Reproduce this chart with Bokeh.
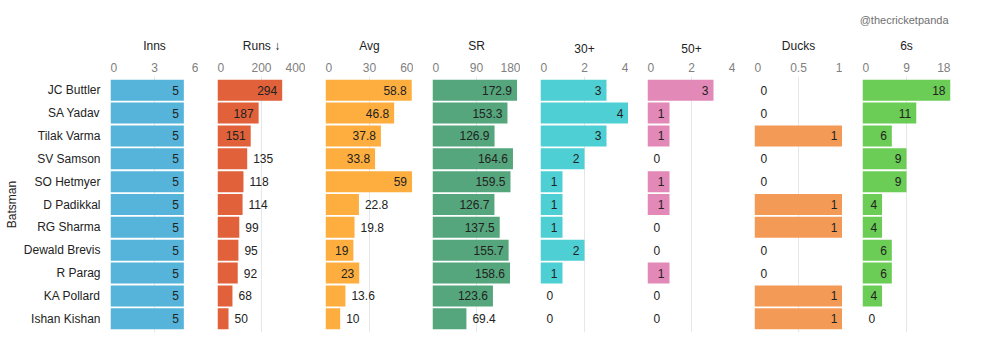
from bokeh.plotting import figure
from bokeh.models import (ColumnDataSource, FactorRange, Range1d, FixedTicker, Title, Div, Grid)
from bokeh.layouts import row
from bokeh.core.properties import value
from bokeh.embed import file_html
from bokeh.resources import INLINE

# ---------------- data ----------------
batsmen = ["JC Buttler", "SA Yadav", "Tilak Varma", "SV Samson", "SO Hetmyer", "D Padikkal",
           "RG Sharma", "Dewald Brevis", "R Parag", "KA Pollard", "Ishan Kishan"]
inns = [5, 5, 5, 5, 5, 5, 5, 5, 5, 5, 5]
runs = [294, 187, 151, 135, 118, 114, 99, 95, 92, 68, 50]
avg = [58.8, 46.8, 37.8, 33.8, 59, 22.8, 19.8, 19, 23, 13.6, 10]
sr = [172.9, 153.3, 126.9, 164.6, 159.5, 126.7, 137.5, 155.7, 158.6, 123.6, 69.4]
thirties = [3, 4, 3, 2, 1, 1, 1, 2, 1, 0, 0]
fifties = [3, 1, 1, 0, 1, 1, 0, 0, 1, 0, 0]
ducks = [0, 0, 1, 0, 0, 1, 1, 0, 0, 1, 1]
sixes = [18, 11, 6, 9, 9, 4, 4, 6, 6, 4, 0]

panel_titles = ["Inns", "Runs \u2193", "Avg", "SR", "30+", "50+", "Ducks", "6s"]
panel_values = [inns, runs, avg, sr, thirties, fifties, ducks, sixes]
panel_ticks = [[0, 3, 6], [0, 200, 400], [0, 30, 60], [0, 90, 180],
               [0, 2, 4], [0, 2, 4], [0, 0.5, 1], [0, 9, 18]]
panel_colors = ["#56b4da", "#e1613a", "#fdae3f", "#55a67c",
                "#4ecfd4", "#e389b7", "#f49a57", "#6bcc56"]
watermark = "@thecricketpanda"

# ---------------- layout constants ----------------
FONT = "Liberation Sans"
H = 352
TOP = 76
BOTTOM = 20
FRAME_W = 88
frame_lefts = [110, 217, 325, 432, 540, 647, 754, 862]
NBSP = "\u00a0"

yr = FactorRange(factors=list(reversed(batsmen)), range_padding=0.1,
                 range_padding_units="absolute")


def fmt(v):
    return f"{v:g}"


def text_w(s):
    return sum(3.33 if ch == "." else 6.67 for ch in s)


def pad(s):
    return NBSP * int(round(text_w(s) / 3.33))


figs = []
n = len(panel_titles)
for i, (title, vals, ticks, color) in enumerate(zip(panel_titles, panel_values, panel_ticks, panel_colors)):
    xmax = ticks[-1]
    if i == 0:
        left_b = frame_lefts[0]
    else:
        left_b = frame_lefts[i] - (frame_lefts[i - 1] + FRAME_W)
    right_b = 35 if i == n - 1 else 0
    w = left_b + FRAME_W + right_b

    p = figure(width=w, height=H, y_range=yr, x_range=Range1d(0, xmax),
               x_axis_location="above", y_axis_location="left" if i == 0 else None,
               toolbar_location=None, output_backend="svg", title=None,
               min_border_left=left_b, min_border_right=right_b,
               min_border_top=TOP, min_border_bottom=BOTTOM)
    p.outline_line_color = None
    p.background_fill_color = "white"
    p.border_fill_color = "white"

    # only vertical grid lines at the tick values
    p.center = [r for r in p.center if not isinstance(r, Grid)]
    p.add_layout(Grid(dimension=0, ticker=FixedTicker(ticks=ticks),
                      grid_line_color="#e4e7eb", grid_line_width=1))

    labels = [fmt(v) for v in vals]
    inside = [(v / xmax) * FRAME_W >= text_w(s) + 11 for v, s in zip(vals, labels)]
    src = ColumnDataSource(dict(
        name=batsmen, v=vals, lab=labels,
        align=["right" if f else "left" for f in inside],
        xoff=[-5 if f else 6 for f in inside],
    ))
    p.hbar(y="name", left=0, right="v", height=0.92, source=src,
           fill_color=color, line_color=None)
    p.text(x="v", y="name", text="lab", source=src, text_align="align", x_offset="xoff",
           text_baseline="middle", text_font=value(FONT), text_font_size="12px",
           text_color="#222222")

    # top axis: first label pushed right; last label ends at the frame edge
    ax = p.xaxis[0]
    ax.ticker = FixedTicker(ticks=ticks)
    overrides = {}
    for j, t in enumerate(ticks):
        s = fmt(t)
        if j == 0:
            s = pad(s) + s
        elif j == len(ticks) - 1 and right_b > 0:
            s = s + pad(s)
        overrides[t] = s
    ax.major_label_overrides = overrides
    ax.axis_line_color = None
    ax.major_tick_line_color = None
    ax.minor_tick_line_color = None
    ax.major_tick_out = 0
    ax.major_tick_in = 0
    ax.minor_tick_out = 0
    ax.major_label_standoff = 2
    ax.major_label_text_font = FONT
    ax.major_label_text_font_size = "12px"
    ax.major_label_text_color = "#808080"

    if i == 0:
        ya = p.yaxis[0]
        ya.axis_line_color = None
        ya.major_tick_line_color = None
        ya.minor_tick_line_color = None
        ya.major_tick_out = 0
        ya.major_tick_in = 0
        ya.major_label_standoff = 10
        ya.major_label_text_font = FONT
        ya.major_label_text_font_size = "12px"
        ya.major_label_text_color = "#222222"
        ya.axis_label = "Batsman"
        ya.axis_label_text_font = FONT
        ya.axis_label_text_font_size = "12px"
        ya.axis_label_text_font_style = "normal"
        ya.axis_label_text_color = "#222222"
        ya.axis_label_standoff = 2

    p.add_layout(Title(text=title, align="center", text_font=FONT, text_font_size="12px",
                       text_font_style="normal", text_color="#222222", standoff=10), "above")
    if i == n - 1:
        p.add_layout(Title(text=watermark, align="right", offset=2, text_font=FONT,
                           text_font_size="11px", text_font_style="normal",
                           text_color="#707070", standoff=12), "above")
    figs.append(p)

edge = Div(text="", width=5, height=H, styles={"background-color": "#eef1f5"})
layout = row(*figs, edge)

open("out.html", "w").write(file_html(layout, INLINE))
